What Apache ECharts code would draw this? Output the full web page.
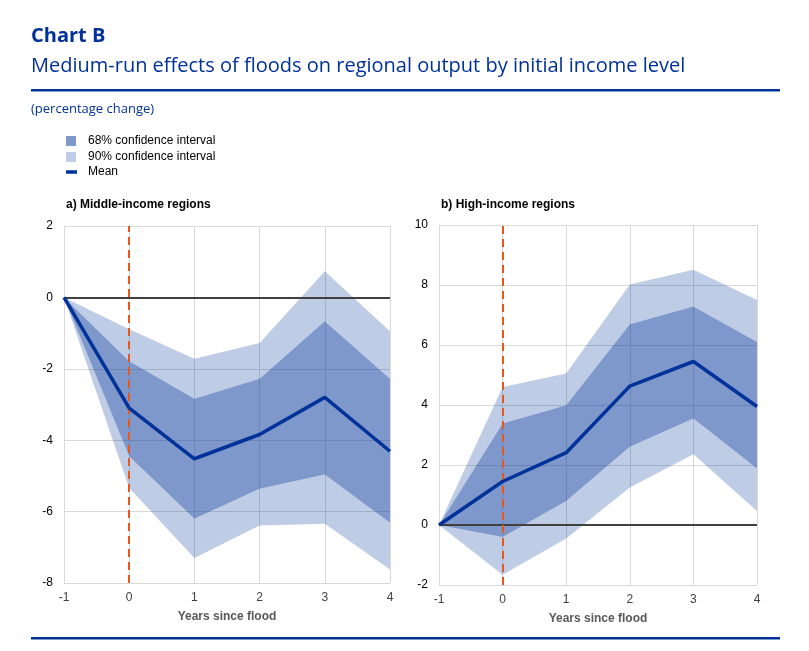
<!DOCTYPE html>
<html>
<head>
<meta charset="utf-8">
<script src="https://cdn.jsdelivr.net/npm/echarts@6/dist/echarts.min.js"></script>
<style>
html,body{margin:0;padding:0;background:#fff;}
#c{width:809px;height:651px;}
</style>
</head>
<body>
<div id="c"></div>
<script>
// ---- Data ----
const years = ['-1', '0', '1', '2', '3', '4'];

// a) Middle-income regions
const midMean    = [0, -3.10, -4.52, -3.84, -2.80, -4.31];
const midUpper68 = [0, -1.79, -2.84, -2.28, -0.67, -2.28];
const midLower68 = [0, -4.45, -6.20, -5.36, -4.96, -6.31];
const midUpper90 = [0, -0.89, -1.72, -1.28,  0.73, -0.95];
const midLower90 = [0, -5.34, -7.30, -6.39, -6.34, -7.62];

// b) High-income regions
const highMean    = [0, 1.45, 2.41, 4.63, 5.45, 3.95];
const highUpper68 = [0, 3.38, 3.99, 6.69, 7.28, 6.10];
const highLower68 = [0, -0.40, 0.80, 2.61, 3.55, 1.88];
const highUpper90 = [0, 4.60, 5.05, 8.02, 8.51, 7.50];
const highLower90 = [0, -1.66, -0.45, 1.25, 2.36, 0.47];

const midTicks  = {min: -8, max: 2, interval: 2};
const highTicks = {min: -2, max: 10, interval: 2};

// ---- Styles ----
const BLUE = '#003299';
const DARK = 'rgba(0,50,153,0.5)';
const LIGHT = 'rgba(0,50,153,0.25)';
const DARK_SOLID = '#8099cc';
const LIGHT_SOLID = '#bfcce6';
const FONT = '"Liberation Sans", Arial, sans-serif';
const TFONT = '"Open Sans", sans-serif';

const diff = (a, b) => a.map((v, i) => +(v - b[i]).toFixed(4));

function bandSeries(idx, mean, l90, l68, u68, u90) {
  const stack = 'band' + idx;
  const common = {
    type: 'line', stack: stack, stackStrategy: 'all', xAxisIndex: idx, yAxisIndex: idx,
    symbol: 'none', lineStyle: {width: 0, opacity: 0}, silent: true, z: 2
  };
  return [
    Object.assign({}, common, {name: 'base' + idx, data: l90}),
    Object.assign({}, common, {name: '90% confidence interval', data: diff(l68, l90),
      itemStyle: {color: LIGHT_SOLID}, areaStyle: {color: LIGHT, opacity: 1}}),
    Object.assign({}, common, {name: '68% confidence interval', data: diff(u68, l68),
      itemStyle: {color: DARK_SOLID}, areaStyle: {color: DARK, opacity: 1}}),
    Object.assign({}, common, {name: '90% confidence interval', data: diff(u90, u68),
      itemStyle: {color: LIGHT_SOLID}, areaStyle: {color: LIGHT, opacity: 1}}),
    {
      type: 'line', name: 'Mean', xAxisIndex: idx, yAxisIndex: idx, data: mean,
      symbol: 'none', z: 5, silent: true,
      itemStyle: {color: BLUE},
      lineStyle: {color: BLUE, width: 3.5},
      markLine: {
        silent: true, symbol: 'none', label: {show: false},
        data: [
          {yAxis: 0, lineStyle: {color: '#404040', width: 2, type: 'solid'}},
          {xAxis: '0', lineStyle: {color: '#e8571c', width: 2, type: [8, 5]}}
        ]
      }
    }
  ];
}

function xAxis(idx) {
  return {
    type: 'category', gridIndex: idx, data: years, boundaryGap: false,
    axisLine: {show: false}, axisTick: {show: false},
    axisLabel: {color: '#404040', fontFamily: FONT, fontSize: 12, margin: 9},
    splitLine: {show: true, lineStyle: {color: '#d9d9d9', width: 1}},
    name: 'Years since flood', nameLocation: 'middle', nameGap: 28,
    nameTextStyle: {color: '#595959', fontFamily: FONT, fontSize: 12, fontWeight: 'bold'}
  };
}
function yAxis(idx, t) {
  return {
    type: 'value', gridIndex: idx, min: t.min, max: t.max, interval: t.interval,
    axisLine: {show: false}, axisTick: {show: false},
    axisLabel: {color: '#000', fontFamily: FONT, fontSize: 12, margin: 11},
    splitLine: {show: true, lineStyle: {color: '#d9d9d9', width: 1}}
  };
}

const chart = echarts.init(document.getElementById('c'), null, {renderer: 'canvas'});
chart.setOption({
  animation: false,
  backgroundColor: '#fff',
  title: [
    {text: 'Chart B', left: 31, top: 26, padding: 0,
     textStyle: {color: BLUE, fontFamily: TFONT, fontWeight: 'bold', fontSize: 20}},
    {text: 'Medium-run effects of floods on regional output by initial income level', left: 31, top: 56, padding: 0,
     textStyle: {color: BLUE, fontFamily: TFONT, fontWeight: 'normal', fontSize: 20}},
    {text: '(percentage change)', left: 31, top: 103, padding: 0,
     textStyle: {color: BLUE, fontFamily: TFONT, fontWeight: 'normal', fontSize: 13}},
    {text: 'a) Middle-income regions', left: 66, top: 199, padding: 0,
     textStyle: {color: '#000', fontFamily: FONT, fontWeight: 'bold', fontSize: 12}},
    {text: 'b) High-income regions', left: 441, top: 199, padding: 0,
     textStyle: {color: '#000', fontFamily: FONT, fontWeight: 'bold', fontSize: 12}}
  ],
  legend: [
    {orient: 'vertical', left: 66, top: 135, padding: 0, itemWidth: 10, itemHeight: 10, itemGap: 4,
     selectedMode: false,
     textStyle: {color: '#000', fontFamily: FONT, fontSize: 12, padding: [0, 0, 0, 7]},
     data: [
       {name: '68% confidence interval', icon: 'rect', itemStyle: {color: DARK_SOLID}},
       {name: '90% confidence interval', icon: 'rect', itemStyle: {color: LIGHT_SOLID}}
     ]},
    {orient: 'vertical', left: 66, top: 166, padding: 0, itemWidth: 11, itemHeight: 3.5,
     selectedMode: false,
     textStyle: {color: '#000', fontFamily: FONT, fontSize: 12, padding: [0, 0, 0, 6]},
     data: [{name: 'Mean', icon: 'rect', itemStyle: {color: BLUE}}]}
  ],
  grid: [
    {left: 64, top: 226, width: 326, height: 357},
    {left: 439, top: 225, width: 318, height: 360}
  ],
  xAxis: [xAxis(0), xAxis(1)],
  yAxis: [yAxis(0, midTicks), yAxis(1, highTicks)],
  graphic: [
    {type: 'rect', left: 31, top: 89, shape: {width: 749, height: 2.5}, style: {fill: BLUE}},
    {type: 'rect', left: 31, top: 637, shape: {width: 749, height: 2.5}, style: {fill: BLUE}}
  ],
  series: [].concat(
    bandSeries(0, midMean, midLower90, midLower68, midUpper68, midUpper90),
    bandSeries(1, highMean, highLower90, highLower68, highUpper68, highUpper90)
  )
});
</script>
</body>
</html>
